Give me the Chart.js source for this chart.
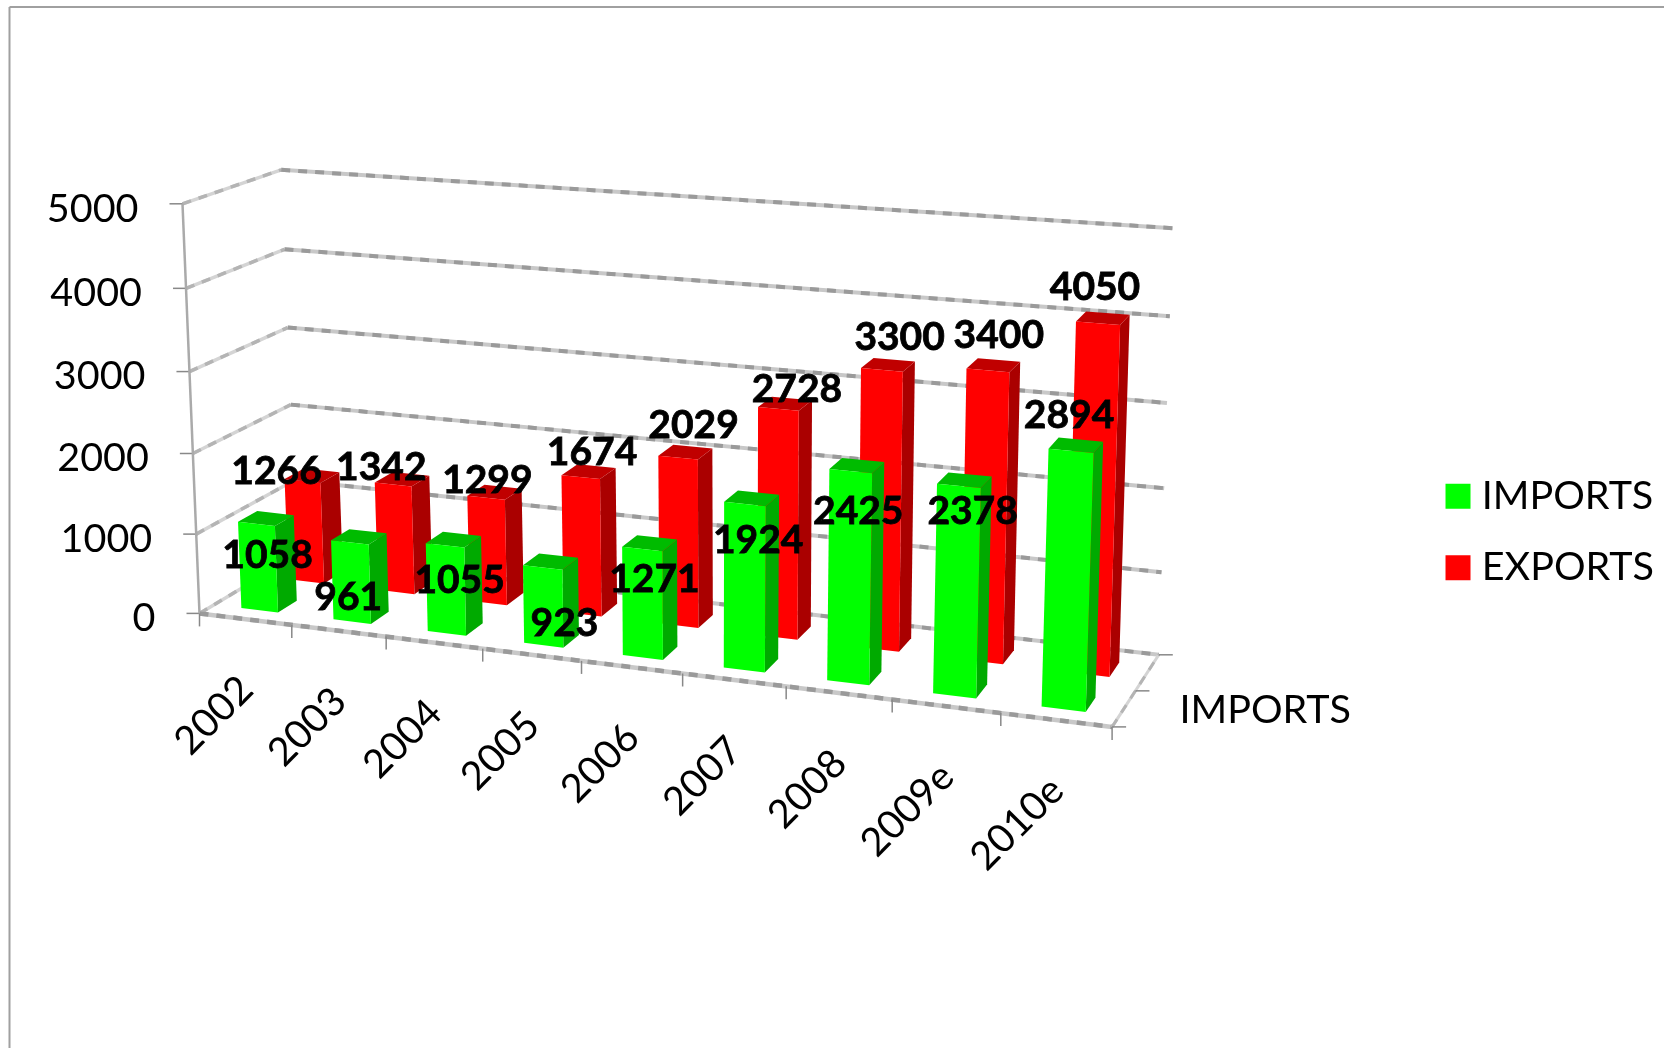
<!DOCTYPE html>
<html>
<head>
<meta charset="utf-8">
<script src="https://cdn.jsdelivr.net/npm/chart.js@4"></script>
<style>
  html, body { margin: 0; padding: 0; background: #fff; }
  #wrap { width: 1664px; height: 1048px; }
</style>
</head>
<body>
<div id="wrap"><canvas id="chartTrade"></canvas></div>
<script>
// values
var years = ['2002', '2003', '2004', '2005', '2006', '2007', '2008', '2009e', '2010e']
var imports = [1058, 961, 1055, 923, 1271, 1924, 2425, 2378, 2894]
var exports_ = [1266, 1342, 1299, 1674, 2029, 2728, 3300, 3400, 4050]

// label nudges from the top of each bar, the original had them dragged by hand
var importsNudge = [[15, 29], [2, 53], [18, 33], [25, 54], [15, 28], [16, 34], [10, 38], [16, 23], [0, -38]]
var exportsNudge = [[-24, -11], [-10, -18], [3, -18], [13, -26], [17, -33], [20, -21], [19, -33], [12, -36], [-2, -37]]

// the 3d box on screen: front/back, left/right, bottom/top
var box = {
  flb: [199.5, 613.4], frb: [1112.1, 726.9], flt: [182.5, 203.8], frt: [1127, 273.8],
  blb: [297.1, 555], brb: [1158.8, 654.8], blt: [281.2, 169.8], brt: [1172.6, 228.2]
}
var faces = [
  { depth: [0.15, 0.35], labelDepth: 0.11, front: '#00ff00', side: '#00aa00', top: '#00bb00', nudge: importsNudge },
  { depth: [0.64, 0.84], labelDepth: 0.62, front: '#ff0000', side: '#aa0000', top: '#c00000', nudge: exportsNudge }
]
var textFont = '39.5px Lato'
var valueFont = 'bold 39px Lato'

function mix(a, b, t) {
  return [a[0] + (b[0] - a[0]) * t, a[1] + (b[1] - a[1]) * t]
}

// u along the years, v up the values, w into the page
function project(u, v, w) {
  var p = 0.9 * u / (1 - 0.1 * u)
  var front = mix(mix(box.flb, box.frb, p), mix(box.flt, box.frt, p), v)
  var back = mix(mix(box.blb, box.brb, p), mix(box.blt, box.brt, p), v)
  return mix(front, back, w)
}

// the gridlines sag a little in the middle of the wall
function gridV(v) {
  return v - 0.04 * v * (1 - v)
}

function line(ctx, a, b, width, color) {
  ctx.beginPath()
  ctx.moveTo(a[0], a[1])
  ctx.lineTo(b[0], b[1])
  ctx.lineWidth = width
  ctx.strokeStyle = color
  ctx.stroke()
}

// the blotchy grey of the original gridlines
function blotchy(ctx, a, b, width, light, dark) {
  line(ctx, a, b, width, light)
  ctx.setLineDash([9, 8])
  line(ctx, a, b, width, dark)
  ctx.setLineDash([])
}

function poly(ctx, pts, color) {
  ctx.beginPath()
  ctx.moveTo(pts[0][0], pts[0][1])
  pts.slice(1).forEach(function (p) { ctx.lineTo(p[0], p[1]) })
  ctx.closePath()
  ctx.fillStyle = color
  ctx.fill()
}

function label(ctx, text, x, y, font, align, angle, heavy) {
  ctx.save()
  ctx.translate(x, y)
  ctx.rotate(angle || 0)
  ctx.font = font
  ctx.fillStyle = '#000'
  ctx.textAlign = align
  ctx.textBaseline = 'middle'
  ctx.fillText(text, 0, 0)
  if (heavy) {
    ctx.lineWidth = heavy
    ctx.strokeStyle = '#000'
    ctx.strokeText(text, 0, 0)
  }
  ctx.restore()
}

var box3d = {
  id: 'box3d',
  beforeDraw: function (chart) {
    var ctx = chart.ctx
    line(ctx, [9.5, 7], [1664, 7], 2, '#a0a0a0')
    line(ctx, [9.5, 7], [9.5, 1048], 2, '#a0a0a0')
  },
  beforeDatasetsDraw: function (chart) {
    var ctx = chart.ctx
    var area = chart.chartArea
    var xScale = chart.scales.x
    var yScale = chart.scales.y
    var toV = function (value) { return (area.bottom - yScale.getPixelForValue(value)) / area.height }
    var toU = function (px) { return (px - area.left) / area.width }
    var n = xScale.ticks.length

    // walls and value ticks
    yScale.ticks.forEach(function (tick) {
      var v = gridV(toV(tick.value))
      var a = project(0, v, 0)
      blotchy(ctx, a, project(0, v, 1), 3.5, '#d4d4d4', '#b4b4b4')
      blotchy(ctx, project(0, v, 1), project(1, v, 1), 4, '#c8c8c8', '#9a9a9a')
      line(ctx, [a[0] - 13, a[1]], a, 1.5, '#888')
      label(ctx, String(tick.value), a[0] - 44, a[1] + 5, textFont, 'right')
    })
    line(ctx, project(0, 0, 0), project(0, 1, 0), 2.5, '#aaa')
    blotchy(ctx, project(0, 0, 0), project(1, 0, 0), 4.5, '#c8c8c8', '#9a9a9a')
    blotchy(ctx, project(1, 0, 0), project(1, 0, 1), 3, '#d4d4d4', '#b4b4b4')

    // year ticks and labels
    xScale.ticks.forEach(function (tick, i) {
      var edge = project(i / n, 0, 0)
      line(ctx, edge, [edge[0], edge[1] + 13], 1.5, '#888')
      var mid = project(toU(xScale.getPixelForTick(i)), 0, 0)
      label(ctx, xScale.getLabelForValue(tick.value), mid[0] + 1, mid[1] + 64, textFont, 'right', -Math.PI / 4)
    })
    var last = project(1, 0, 0)
    line(ctx, last, [last[0], last[1] + 13], 1.5, '#888')

    // depth axis
    ;[0, 0.5, 1].forEach(function (w) {
      var p = project(1, 0, w)
      line(ctx, p, [p[0] + 14, p[1]], 1.5, '#888')
    })
    var depthMark = project(1, 0, 0.5)
    label(ctx, chart.data.datasets[0].label, depthMark[0] + 44, depthMark[1] + 19, textFont, 'left')

    // bars, the back row first
    for (var d = chart.data.datasets.length - 1; d >= 0; d--) {
      var face = faces[d]
      chart.getDatasetMeta(d).data.forEach(function (bar) {
        var u0 = toU(bar.x - bar.width / 2)
        var u1 = toU(bar.x + bar.width / 2)
        var v = (area.bottom - bar.y) / area.height
        var w0 = face.depth[0]
        var w1 = face.depth[1]
        poly(ctx, [project(u1, 0, w0), project(u1, 0, w1), project(u1, v, w1), project(u1, v, w0)], face.side)
        poly(ctx, [project(u0, v, w0), project(u1, v, w0), project(u1, v, w1), project(u0, v, w1)], face.top)
        poly(ctx, [project(u0, 0, w0), project(u1, 0, w0), project(u1, v, w0), project(u0, v, w0)], face.front)
      })
    }

    // value labels sit on top of everything
    chart.data.datasets.forEach(function (ds, d) {
      var face = faces[d]
      chart.getDatasetMeta(d).data.forEach(function (bar, i) {
        var p = project(toU(bar.x), (area.bottom - bar.y) / area.height, face.labelDepth)
        label(ctx, String(ds.data[i]), p[0] + face.nudge[i][0], p[1] + face.nudge[i][1], valueFont, 'center', 0, 0.8)
      })
    })
    return false
  }
}

var chartTradeCanvas = document.getElementById('chartTrade').getContext('2d')

// small legend box plus a fat border, the gap to the text is font size / 2 otherwise
new Chart(chartTradeCanvas, {
  type: 'bar',
  data: {
    labels: years,
    datasets: [
      { label: 'IMPORTS', data: imports, backgroundColor: '#00ff00', borderColor: '#00ff00', borderWidth: 17 },
      { label: 'EXPORTS', data: exports_, backgroundColor: '#ff0000', borderColor: '#ff0000', borderWidth: 17 }
    ]
  },
  options: {
    responsive: true,
    maintainAspectRatio: false,
    animation: false,
    grouped: false,
    barPercentage: 0.4,
    categoryPercentage: 1,
    layout: { padding: { top: 16, right: 0 } },
    scales: {
      x: { display: false, ticks: { autoSkip: false } },
      y: { display: false, min: 0, max: 5000, ticks: { stepSize: 1000 } }
    },
    plugins: {
      tooltip: { enabled: false },
      legend: {
        position: 'right',
        labels: {
          boxWidth: 8,
          boxHeight: 8,
          padding: 32,
          color: '#000',
          font: { family: 'Lato', size: 39.5 }
        }
      }
    }
  },
  plugins: [box3d]
})
</script>
</body>
</html>
